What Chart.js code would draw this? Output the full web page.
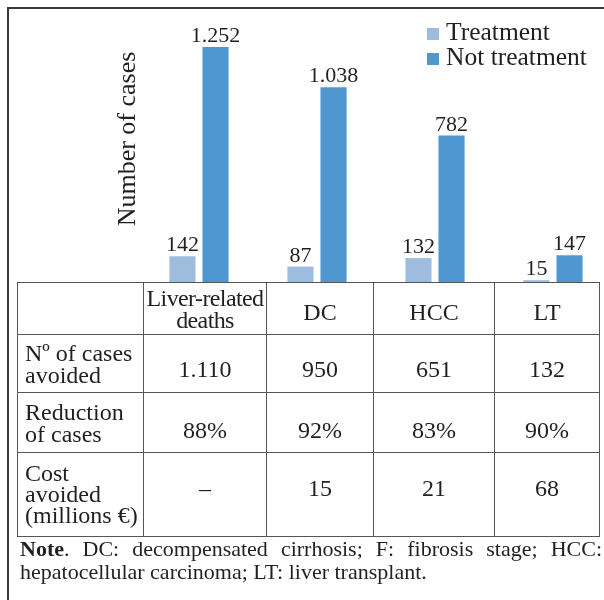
<!DOCTYPE html>
<html>
<head>
<meta charset="utf-8">
<title>Cases avoided with treatment</title>
<script src="https://cdn.jsdelivr.net/npm/chart.js@4.4.1/dist/chart.umd.min.js"></script>
<style>
  html, body { margin: 0; padding: 0; width: 604px; height: 600px; overflow: hidden; background: #fff; }
  body { position: relative; font-family: "Liberation Serif", serif; color: #231f20; }
  #frame { position: absolute; left: 7px; top: 7px; width: 700px; height: 700px;
           border-left: 2px solid #3a3a3a; border-top: 2px solid #3a3a3a; }
  #chart { position: absolute; left: 0; top: 0; }
  #cases { position: absolute; left: 17px; top: 282px; width: 582px; table-layout: fixed;
           border-collapse: collapse; font-size: 24px; line-height: 22px; }
  #cases td { border: 1.5px solid #555; padding: 0; text-align: center; vertical-align: middle; }
  #cases td.name { text-align: left; padding-left: 7px; }
  #cases td.head-two { letter-spacing: -0.6px; white-space: nowrap; }
  #cases tr.r0 td.val { padding-top: 6px; }
  #cases tr.r1 td.val { padding-top: 10px; }
  #cases tr.r2 td.val { padding-top: 14px; }
  #cases tr.r3 td.val { padding-bottom: 14px; }
  #cases tr.r3 td.name { line-height: 21px; }
  #note { position: absolute; left: 20px; top: 537px; width: 582px; font-size: 22px;
          line-height: 23px; text-align: justify; }
</style>
</head>
<body>
<div id="frame"></div>
<canvas id="chart" width="612" height="284"></canvas>
<table id="cases"></table>
<div id="note"><b>Note</b>. DC: decompensated cirrhosis; F: fibrosis stage; HCC: hepatocellular carcinoma; LT: liver transplant.</div>

<script>
/* Data */
const categories = [["Liver-related", "deaths"], "DC", "HCC", "LT"];
const seriesNames = ["Treatment", "Not treatment"];
const treatment = [142, 87, 132, 15];
const notTreatment = [1252, 1038, 782, 147];

const rowNames = [["Nº of cases", "avoided"], ["Reduction", "of cases"], ["Cost", "avoided", "(millions €)"]];
const casesAvoided = ["1.110", "950", "651", "132"];
const reduction = ["88%", "92%", "83%", "90%"];
const costAvoided = ["–", "15", "21", "68"];
/* Data */

const ink = "#231f20";
const lightBlue = "#9ebdde";
const blue = "#4f97d1";
const font = '"Liberation Serif", serif';

// 1252 -> "1.252"
const fmt = (v) => String(v).replace(/\B(?=(\d{3})+(?!\d))/g, ".");

/**
 * Value labels, rotated y title and the legend, drawn on top of the bars.
 */
const overlay = {
  id: "overlay",
  afterDatasetsDraw(chart) {
    const ctx = chart.ctx;
    ctx.save();
    ctx.fillStyle = ink;
    ctx.textBaseline = "alphabetic";

    ctx.font = "22px " + font;
    ctx.textAlign = "center";
    chart.data.datasets.forEach((ds, i) => {
      chart.getDatasetMeta(i).data.forEach((bar, j) => {
        ctx.fillText(fmt(ds.data[j]), bar.x, bar.y - 5);
      });
    });

    // legend, top right
    ctx.font = "25.5px " + font;
    ctx.textAlign = "left";
    chart.data.datasets.forEach((ds, i) => {
      ctx.fillStyle = ds.backgroundColor;
      ctx.fillRect(427, 28 + 25 * i, 12, 12);
      ctx.fillStyle = ink;
      ctx.fillText(ds.label, 446, 40 + 25 * i);
    });

    // y axis title
    ctx.font = "26px " + font;
    ctx.textAlign = "center";
    ctx.translate(135, 139);
    ctx.rotate(-Math.PI / 2);
    ctx.fillText("Number of cases", 0, 0);
    ctx.restore();
  },
};

new Chart(document.getElementById("chart"), {
  type: "bar",
  data: {
    labels: categories,
    datasets: [
      { label: seriesNames[0], data: treatment, backgroundColor: lightBlue },
      { label: seriesNames[1], data: notTreatment, backgroundColor: blue },
    ],
  },
  options: {
    responsive: false,
    animation: false,
    devicePixelRatio: 1,
    layout: { padding: { left: 140, right: 0, top: 19, bottom: 1 } },
    datasets: { bar: { categoryPercentage: 0.56, barPercentage: 0.79 } },
    scales: {
      x: { display: false },
      y: { display: false, min: 0, max: 1400 },
    },
    plugins: {
      legend: { display: false },
      tooltip: { enabled: false },
      title: { display: false },
    },
  },
  plugins: [overlay],
});

// table under the bars
const table = document.getElementById("cases");
const widths = [126, 123, 107, 121, 105];
const cols = document.createElement("colgroup");
widths.forEach((w) => {
  const c = document.createElement("col");
  c.style.width = w + "px";
  cols.appendChild(c);
});
table.appendChild(cols);

const rowHeights = [52, 58, 60, 84];
const rows = [
  [[""]].concat(categories.map((c) => (Array.isArray(c) ? c : [c]))),
  [rowNames[0]].concat(casesAvoided.map((v) => [v])),
  [rowNames[1]].concat(reduction.map((v) => [v])),
  [rowNames[2]].concat(costAvoided.map((v) => [v])),
];
rows.forEach((cells, r) => {
  const tr = document.createElement("tr");
  tr.className = "r" + r;
  tr.style.height = rowHeights[r] + "px";
  cells.forEach((lines, c) => {
    const td = document.createElement("td");
    if (c === 0) td.className = "name";
    else if (lines.length > 1) td.className = "head-two";
    else td.className = "val";
    td.innerHTML = lines.join("<br>");
    tr.appendChild(td);
  });
  table.appendChild(tr);
});
</script>
</body>
</html>
